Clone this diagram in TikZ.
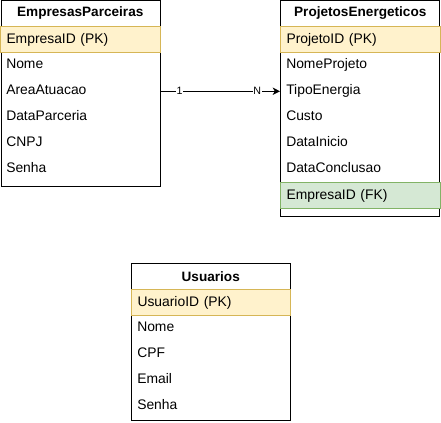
\documentclass[tikz,border=0pt]{standalone}
\usepackage{fontspec}
\setmainfont{Liberation Sans}
\usetikzlibrary{arrows.meta}
\definecolor{pkfundo}{HTML}{FFF2CC}
\definecolor{pkborda}{HTML}{D6B656}
\definecolor{fkfundo}{HTML}{D5E8D4}
\definecolor{fkborda}{HTML}{82B366}

\begin{document}
\begin{tikzpicture}[x=0.75pt, y=-0.75pt, font=\fontsize{10.4}{12}\selectfont,
    tabela/.style={draw, line width=0.75pt, anchor=north west, inner sep=0pt, minimum width=119.6pt},
    titulo/.style={anchor=north west, inner sep=0pt, minimum width=120pt, minimum height=19.5pt,
                   font=\fontsize{10.2}{12}\selectfont\bfseries},
    campo/.style={anchor=north west, inner xsep=4.5pt, inner ysep=0pt, text width=111pt,
                  minimum height=19.5pt, text height=7.4pt, text depth=2.1pt},
    pk/.style={campo, draw=pkborda, fill=pkfundo, line width=0.75pt},
    fk/.style={campo, draw=fkborda, fill=fkfundo, line width=0.75pt},
    rotulo/.style={fill=white, inner sep=0.6pt, font=\fontsize{8}{9}\selectfont}]
    \useasboundingbox (0,0) rectangle (441,423);

    % EmpresasParceiras
    \node[tabela, minimum height=139.3pt] (empresas) at (0.5,0.5) {};
    \node[titulo] (empTitulo) at (0,0) {EmpresasParceiras};
    \node[pk] (empID) at (0,26) {EmpresaID (PK)};
    \node[campo] (empNome) at (0,52) {Nome};
    \node[campo] (empArea) at (0,78) {AreaAtuacao};
    \node[campo] (empData) at (0,104) {DataParceria};
    \node[campo] (empCNPJ) at (0,130) {CNPJ};
    \node[campo] (empSenha) at (0,156) {Senha};

    % ProjetosEnergeticos
    \node[tabela, minimum height=162pt] (projetos) at (280,0.5) {};
    \node[titulo] (projTitulo) at (280,0) {ProjetosEnergeticos};
    \node[pk] (projID) at (280,26) {ProjetoID (PK)};
    \node[campo] (projNome) at (280,52) {NomeProjeto};
    \node[campo] (projTipo) at (280,78) {TipoEnergia};
    \node[campo] (projCusto) at (280,104) {Custo};
    \node[campo] (projInicio) at (280,130) {DataInicio};
    \node[campo] (projFim) at (280,156) {DataConclusao};
    \node[fk] (projEmp) at (280,182) {EmpresaID (FK)};

    % Usuarios
    \node[tabela, minimum width=119.25pt, minimum height=117.75pt] (usuarios) at (131,263) {};
    \node[titulo, minimum width=119.25pt] (usuTitulo) at (131,263) {Usuarios};
    \node[pk, text width=110.25pt] (usuID) at (131,289) {UsuarioID (PK)};
    \node[campo, text width=110.25pt] (usuNome) at (131,315) {Nome};
    \node[campo, text width=110.25pt] (usuCPF) at (131,341) {CPF};
    \node[campo, text width=110.25pt] (usuEmail) at (131,367) {Email};
    \node[campo, text width=110.25pt] (usuSenha) at (131,393) {Senha};

    % relacao 1:N
    \draw[line width=0.75pt, -{Stealth[length=5.5pt, width=5.5pt, inset=1.6pt]}]
        (empArea.east) -- node[rotulo, pos=0.16] {1} node[rotulo, pos=0.81] {N} (projTipo.west);
\end{tikzpicture}
\end{document}
